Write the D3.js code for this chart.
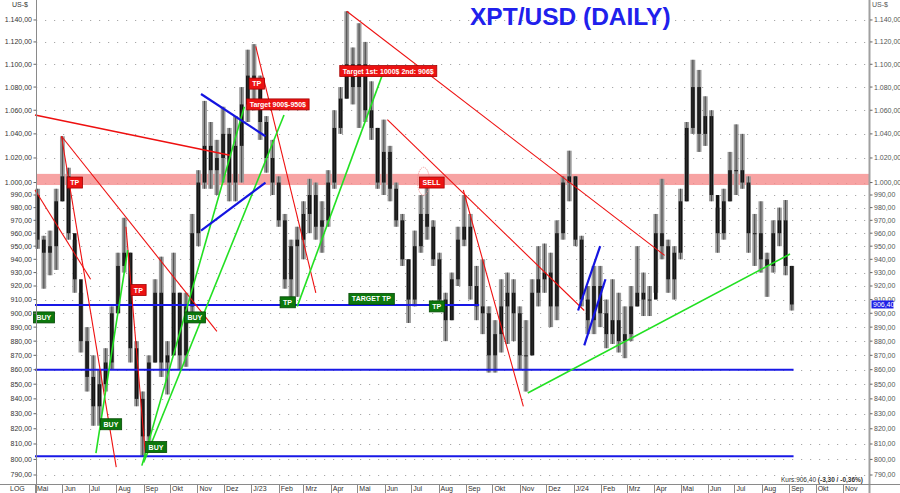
<!DOCTYPE html>
<html>
<head>
<meta charset="utf-8">
<script src="https://cdn.jsdelivr.net/npm/d3@7"></script>
<style>
  body { margin: 0; background: #fff; }
  svg { display: block; font-family: "Liberation Sans", Arial, sans-serif; }
</style>
</head>
<body>
<svg id="chart" width="900" height="493"></svg>
<script>
// weekly bars (open = previous close)
const firstOpen = 990;
const highs = [995,958,962,995,1038,1012,955,915,890,870,860,875,905,945,972,945,880,845,870,925,
  942,880,945,915,915,975,1010,1068,1050,1035,1063,1045,1055,1080,1113,1118,1090,1055,1035,1005,
  975,955,965,985,1003,1000,985,1010,1060,1080,1148,1115,1137,1120,1085,1045,1052,1030,1000,975,
  940,962,990,1000,970,945,915,930,965,990,975,935,940,905,895,925,930,925,905,895,
  925,950,952,945,970,1005,1026,1005,958,920,935,935,910,925,915,905,920,950,930,920,
  975,1003,955,950,995,1050,1104,1095,1072,1060,980,995,1025,1048,1040,1005,975,985,945,970,
  980,986,935];
const lows = [948,918,928,932,985,955,915,872,845,822,822,845,860,900,930,865,835,802,812,865,
  855,843,870,860,862,900,950,995,995,990,1000,985,985,1000,1050,1060,1035,1008,990,965,
  918,908,912,940,960,955,945,965,995,1040,1070,1065,1045,1050,1035,995,990,985,965,935,
  893,905,945,955,935,905,880,895,920,950,910,895,885,858,858,872,878,880,860,845,
  870,905,915,890,895,955,985,950,905,885,885,890,875,878,872,868,880,905,898,898,
  915,940,915,910,940,985,1040,1025,1030,985,945,955,985,990,995,945,935,930,912,930,
  950,928,902];
const closes = [955,945,950,985,1005,960,925,880,855,835,850,865,900,935,945,875,840,815,865,915,
  865,870,915,870,905,960,1000,1030,1010,1020,1040,1000,1030,1065,1090,1080,1050,1020,1000,970,
  925,950,955,975,990,965,970,1000,1045,1070,1100,1080,1100,1060,1045,1000,1025,995,970,940,
  910,950,975,965,940,910,895,925,955,965,920,905,900,870,885,905,915,900,870,870,
  915,925,930,905,960,1000,1005,955,910,895,920,900,885,895,880,885,905,915,910,910,
  960,950,925,945,985,1045,1080,1040,1055,990,960,985,1010,1010,1000,960,960,940,935,960,
  970,935,906.4];

const yTicks = [790,800,810,820,830,840,850,860,870,880,890,900,910,920,930,940,950,960,970,980,990,
  1000,1020,1040,1060,1080,1100,1120,1140];
const monthNames = ["J","Feb","Mrz","Apr","Mai","Jun","Jul","Aug","Sep","Okt","Nov","Dez"];

const levels = [
  { value: 906, from: "2022-05-01", to: "2023-09-16" },
  { value: 860, from: "2022-05-01", to: "2024-09-06" },
  { value: 802, from: "2022-05-01", to: "2024-09-06" }
];
const redLines = [
  [["2022-05-01",1056],["2022-12-09",1022]],
  [["2022-05-01",994],["2022-07-03",925]],
  [["2022-05-31",1038],["2022-08-01",795]],
  [["2022-08-12",965],["2022-09-03",803]],
  [["2022-05-31",1038],["2022-11-23",887]],
  [["2023-01-06",1116],["2023-03-15",915]],
  [["2023-04-19",1148],["2024-04-13",943]],
  [["2023-06-04",1052],["2024-01-13",902]],
  [["2023-08-29",994],["2023-11-05",835]]
];
const greenLines = [
  [["2022-07-09",804],["2022-08-14",947]],
  [["2022-08-30",796],["2022-12-24",1063]],
  [["2022-09-01",798],["2023-02-07",1056]],
  [["2023-02-22",905],["2023-05-29",1090]],
  [["2023-11-10",844],["2024-09-02",944]]
];
const blueLines = [
  [["2022-11-05",1074],["2023-01-17",1038]],
  [["2022-11-05",962],["2023-01-17",1000]],
  [["2024-01-06",902],["2024-01-31",950]],
  [["2024-01-13",877],["2024-02-06",925]]
];
const tags = [
  { date: "2022-06-15", value: 1000, text: "TP", kind: "red" },
  { date: "2022-08-26", value: 917, text: "TP", kind: "red" },
  { date: "2022-05-11", value: 897, text: "BUY", kind: "green" },
  { date: "2022-10-29", value: 897, text: "BUY", kind: "green" },
  { date: "2023-02-11", value: 908, text: "TP", kind: "green" },
  { date: "2022-07-26", value: 823, text: "BUY", kind: "green" },
  { date: "2022-09-15", value: 808, text: "BUY", kind: "green" },
  { date: "2023-01-07", value: 1083, text: "TP", kind: "red" },
  { date: "2023-01-31", value: 1065, text: "Target 900$-950$", kind: "red" },
  { date: "2023-06-05", value: 1094, text: "Target 1st: 1000$ 2nd: 906$", kind: "red" },
  { date: "2023-07-24", value: 1000, text: "SELL", kind: "red" },
  { date: "2023-05-17", value: 910.5, text: "TARGET TP", kind: "green" },
  { date: "2023-07-30", value: 905, text: "TP", kind: "green" }
];
const lastPrice = 906.40;

const parse = d3.timeParse("%Y-%m-%d");
const fmt = d3.formatLocale({ decimal: ",", thousands: ".", grouping: [3], currency: ["", "$"] }).format(",.2f");

const svg = d3.select("#chart");
const x = d3.scaleTime().domain([new Date(2022, 4, 1), new Date(2024, 11, 1)]).range([35, 869.5]);
const y = d3.scaleLog().domain([784.3, 1158.5]).range([484, 0]);

// grid
svg.append("g").selectAll("line").data(yTicks).join("line")
    .attr("x1", 36).attr("x2", 869)
    .attr("y1", d => Math.round(y(d)) + 0.5).attr("y2", d => Math.round(y(d)) + 0.5)
    .attr("stroke", "#a8a8a8").attr("stroke-width", 1.2).attr("stroke-dasharray", "1.2,7.8");

// resistance band round 1000
svg.append("rect")
    .attr("x", 36).attr("width", 833)
    .attr("y", y(1007)).attr("height", y(998) - y(1007))
    .attr("fill", "#f58c8c").attr("opacity", 0.8);

// candles
const weeks = d3.timeMonday.range(new Date(2022, 4, 2), new Date(2024, 8, 3));
const bars = weeks.map((d, i) => ({
  date: d3.timeDay.offset(d, 2),
  open: i ? closes[i - 1] : firstOpen,
  high: highs[i], low: lows[i], close: closes[i]
}));

const candles = svg.append("g").selectAll("g").data(bars).join("g")
    .attr("transform", d => `translate(${x(d.date)},0)`);
candles.append("rect")
    .attr("x", -2.4).attr("width", 4.8)
    .attr("y", d => y(d.high)).attr("height", d => y(d.low) - y(d.high))
    .attr("fill", "#9a9a9a");
candles.append("rect")
    .attr("x", -1.8).attr("width", 3.6)
    .attr("y", d => y(Math.max(d.open, d.close)))
    .attr("height", d => Math.max(1, Math.abs(y(d.open) - y(d.close))))
    .attr("fill", "#141414");
candles.append("line")
    .attr("x1", 0).attr("x2", 0)
    .attr("y1", d => y(d.high)).attr("y2", d => y(d.low))
    .attr("stroke", "#333").attr("stroke-width", 0.8);

// horizontal levels
svg.append("g").selectAll("line").data(levels).join("line")
    .attr("x1", d => x(parse(d.from))).attr("x2", d => x(parse(d.to)))
    .attr("y1", d => y(d.value)).attr("y2", d => y(d.value))
    .attr("stroke", "#1818e6").attr("stroke-width", 2);

// trend lines
const line = d3.line().x(d => x(parse(d[0]))).y(d => y(d[1]));
svg.append("g").selectAll("path").data(redLines).join("path")
    .attr("d", line).attr("fill", "none")
    .attr("stroke", "#ee1010").attr("stroke-width", (d, i) => i === 0 ? 1.6 : 1.1);
svg.append("g").selectAll("path").data(greenLines).join("path")
    .attr("d", line).attr("fill", "none")
    .attr("stroke", "#22e022").attr("stroke-width", 1.6);
svg.append("g").selectAll("path").data(blueLines).join("path")
    .attr("d", line).attr("fill", "none")
    .attr("stroke", "#1414e0").attr("stroke-width", 2.2);

// dotted mark round the sell top
svg.append("ellipse")
    .attr("cx", x(parse("2023-07-15"))).attr("cy", y(1001))
    .attr("rx", 6).attr("ry", 14)
    .attr("fill", "none").attr("stroke", "#f08a8a").attr("stroke-dasharray", "1,1");

// tags
const tagG = svg.append("g").selectAll("g").data(tags).join("g")
    .attr("transform", d => `translate(${x(parse(d.date))},${y(d.value)})`);
tagG.append("text")
    .attr("text-anchor", "middle").attr("dy", "0.35em")
    .attr("font-size", 7).attr("font-weight", "bold").attr("fill", "#fff")
    .text(d => d.text);
tagG.each(function(d) {
  const b = d3.select(this).select("text").node().getBBox();
  d3.select(this).insert("rect", "text")
      .attr("x", b.x - 3).attr("y", -5.5)
      .attr("width", b.width + 6).attr("height", 11)
      .attr("fill", d.kind === "red" ? "#ec1212" : "#0c780c")
      .attr("stroke", d.kind === "red" ? "#a40000" : "#054805").attr("stroke-width", 0.8);
});

// axes frame
svg.append("line").attr("x1", 36.5).attr("x2", 36.5).attr("y1", 0).attr("y2", 493).attr("stroke", "#8a8a8a");
svg.append("line").attr("x1", 869.5).attr("x2", 869.5).attr("y1", 0).attr("y2", 493).attr("stroke", "#a0a0a0").attr("stroke-width", 2);
svg.append("line").attr("x1", 0).attr("x2", 900).attr("y1", 484.5).attr("y2", 484.5).attr("stroke", "#8a8a8a");

// y labels both sides
const yl = svg.append("g").attr("font-size", 7);
yl.selectAll("text.l").data(yTicks).join("text").attr("class", "l")
    .attr("x", 32).attr("y", d => y(d)).attr("dy", "0.35em")
    .attr("text-anchor", "end").attr("fill", "#333").text(d => fmt(d));
yl.selectAll("line.l").data(yTicks).join("line").attr("class", "l")
    .attr("x1", 33.5).attr("x2", 36).attr("y1", d => y(d)).attr("y2", d => y(d)).attr("stroke", "#666");
yl.selectAll("text.r").data(yTicks).join("text").attr("class", "r")
    .attr("x", 874).attr("y", d => y(d)).attr("dy", "0.35em")
    .attr("fill", "#555").text(d => fmt(d));
yl.selectAll("line.r").data(yTicks).join("line").attr("class", "r")
    .attr("x1", 870).attr("x2", 872.5).attr("y1", d => y(d)).attr("y2", d => y(d)).attr("stroke", "#666");
yl.append("text").attr("x", 12).attr("y", 7).attr("fill", "#333").text("US-$");
yl.append("text").attr("x", 872).attr("y", 7).attr("fill", "#555").text("US-$");

// last price tag
svg.append("rect").attr("x", 871.5).attr("y", y(lastPrice) - 4).attr("width", 22).attr("height", 8).attr("fill", "#1e1ee6");
svg.append("text").attr("x", 873).attr("y", y(lastPrice)).attr("dy", "0.35em")
    .attr("font-size", 7).attr("fill", "#fff").text(fmt(lastPrice));

// months
const months = d3.timeMonth.range(new Date(2022, 4, 1), new Date(2024, 11, 1));
const mg = svg.append("g").attr("font-size", 7).attr("fill", "#333");
mg.selectAll("line").data(months).join("line")
    .attr("x1", d => Math.round(x(d)) + 0.5).attr("x2", d => Math.round(x(d)) + 0.5)
    .attr("y1", 484).attr("y2", 493).attr("stroke", "#8a8a8a");
mg.selectAll("text").data(months).join("text")
    .attr("x", d => x(d) + 2).attr("y", 491)
    .text(d => d.getMonth() === 0 ? "J/" + String(d.getFullYear()).slice(2) : monthNames[d.getMonth()]);
mg.append("text").attr("x", 10).attr("y", 491).text("LOG");

// quote line
const q = svg.append("text").attr("x", 863).attr("y", 482).attr("font-size", 6.5).attr("text-anchor", "end").attr("fill", "#333");
q.append("tspan").text("Kurs:906,40 ");
q.append("tspan").attr("font-weight", "bold").text("(-3,30 / -0,36%)");

// title
svg.append("text").attr("x", 470).attr("y", 25)
    .attr("font-size", 24.5).attr("font-weight", "bold").attr("fill", "#2020ec")
    .text("XPT/USD (DAILY)");
</script>
</body>
</html>
